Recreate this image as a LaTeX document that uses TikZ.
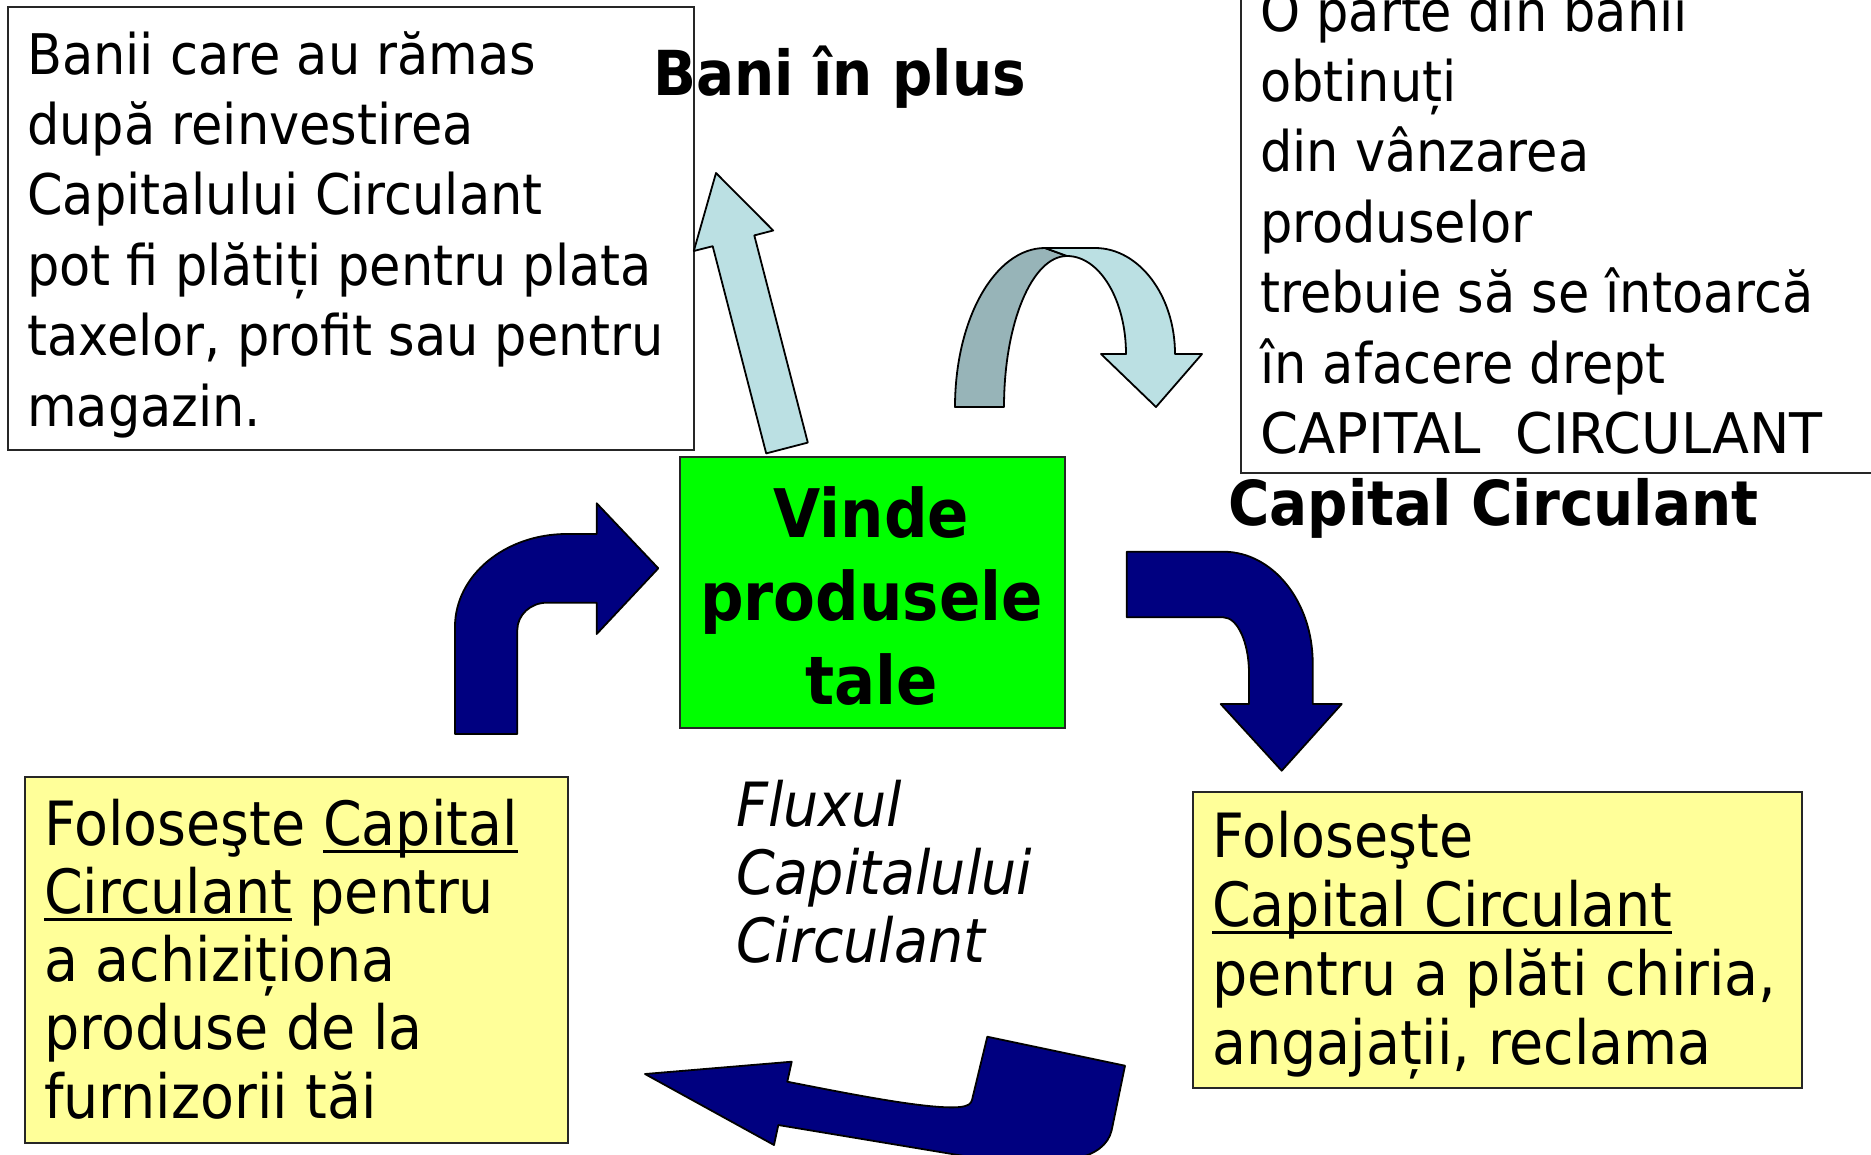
\documentclass[tikz,border=0pt]{standalone}
\usepackage{fontspec}
\setmainfont{DejaVu Sans}[FakeStretch=0.91]
\definecolor{navy}{HTML}{000080}
\definecolor{lblue}{HTML}{BBE0E3}
\definecolor{gblue}{HTML}{97B4B8}
\definecolor{lyellow}{HTML}{FFFF99}
\definecolor{vgreen}{HTML}{00FF00}
\newcommand\myul[1]{\leavevmode\setbox0\hbox{#1}\rlap{\rule[-8pt]{\wd0}{3pt}}\box0\relax}
\begin{document}
\begin{tikzpicture}[x=1pt,y=-1pt,
  box/.style={draw=black!85, line width=1.6pt, inner sep=0, anchor=north west},
  txt/.style={anchor=base west, inner sep=0},
  shp/.style={draw=black, line width=1.8pt, line join=round}]
\useasboundingbox (0,0) rectangle (1871,1154);
\fill[white] (0,0) rectangle (1871,1154);
\clip (0,0) rectangle (1871,1154);

% boxes
\node[box, fill=white, minimum width=686pt, minimum height=443pt] (tlbox) at (7,6) {};
\node[box, fill=white, minimum width=680pt, minimum height=492pt] (trbox) at (1240,-20) {};
\node[box, fill=vgreen, minimum width=385pt, minimum height=271pt] (gbox) at (679,456) {};
\node[box, fill=lyellow, minimum width=543pt, minimum height=366pt] (lybox) at (24,776) {};
\node[box, fill=lyellow, minimum width=609pt, minimum height=296pt] (rybox) at (1192,791) {};

% straight light-blue arrow (up)
\draw[shp, fill=lblue] (766.2,453.4) -- (712.7,246.2) -- (693.8,251) -- (716,173)
  -- (773.2,230.5) -- (754.3,235.4) -- (807.8,442.6) -- cycle;

% curved ribbon arrow: back (dark) part
\draw[shp, fill=gblue] (955,407) .. controls (955,319) and (995,248) .. (1045,248)
  -- (1067,256) .. controls (1032,256) and (1004,323.6) .. (1004,407) -- cycle;
% front (light) part
\draw[shp, fill=lblue] (1045,248) -- (1095,248) .. controls (1139,248) and (1175,295.5) .. (1175,354)
  -- (1202,354) -- (1156,407) -- (1101,354) -- (1126,354)
  .. controls (1126,300) and (1099.6,256) .. (1067,256) -- cycle;

% navy bent arrow (up then right)
\draw[shp, fill=navy] (455,734) -- (455,626.7) .. controls (455,575.5) and (505,534) .. (566.7,534)
  -- (596.7,534) -- (596.7,503.3) -- (658.3,568.3) -- (596.7,634) -- (596.7,602.7)
  -- (546.7,602.7) .. controls (530.5,602.7) and (517.3,615) .. (517.3,630) -- (517.3,734) -- cycle;

% navy bent arrow (right then down)
\draw[shp, fill=navy] (1126.7,551.7) -- (1223.3,551.7) .. controls (1272.7,551.7) and (1312.7,601.6) .. (1312.7,663)
  -- (1312.7,704) -- (1341.7,704) -- (1281.7,770.7) -- (1220.7,704) -- (1249,704) -- (1249,673.3)
  .. controls (1249,642.4) and (1237.5,617.3) .. (1223.3,617.3) -- (1126.7,617.3) -- cycle;

% navy bottom arrow (pointing left)
\draw[shp, fill=navy] (645,1074) -- (791.7,1061.7) -- (787.3,1081.7)
  .. controls (850,1094) and (930,1110) .. (960,1107)
  .. controls (968,1106) and (971,1104) .. (972,1100)
  -- (987.3,1036.7) -- (1125,1065.7) -- (1111.7,1130)
  .. controls (1105,1160) and (1060,1166) .. (1000,1162)
  -- (778.3,1125) -- (774,1145) -- cycle;

% texts
\node[txt] (tltext) at (27,74) {\parbox[t]{660pt}{\raggedright\fontsize{56}{70.4}\selectfont
  Banii care au rămas\\după reinvestirea\\Capitalului Circulant\\pot fi plătiți pentru plata\\taxelor, profit sau pentru\\magazin.}};
\node[txt] (trtext) at (1260,31) {\parbox[t]{600pt}{\raggedright\fontsize{56}{70.4}\selectfont
  O parte din banii\\obtinuți\\din vânzarea\\produselor\\trebuie să se întoarcă\\în afacere drept\\\scalebox{1.07}[1]{CAPITAL}\hspace{34pt}\scalebox{1.06}[1]{CIRCULANT}}};
\node[txt] (baniplus) at (653,95) {\fontsize{62}{70}\selectfont\bfseries Bani în plus};
\node[txt] (capcirc) at (1228,525) {\fontsize{62}{70}\selectfont\bfseries Capital Circulant};
\node[anchor=base, inner sep=0] (gtext) at (871.5,537) {\parbox[t]{380pt}{\centering\fontsize{67}{83.5}\selectfont\bfseries
  Vinde\\produsele\\tale}};
\node[txt] (flux) at (736,826) {\parbox[t]{400pt}{\raggedright\fontsize{61}{68}\selectfont\itshape
  Fluxul\\Capitalului\\Circulant}};
\node[txt] (lytext) at (44,845) {\parbox[t]{520pt}{\raggedright\fontsize{61}{68.3}\selectfont
  Foloseşte \myul{Capital}\\\myul{Circulant} pentru\\a achiziționa\\produse de la\\furnizorii tăi}};
\node[txt] (rytext) at (1212,857) {\parbox[t]{590pt}{\raggedright\fontsize{61}{69}\selectfont
  Foloseşte\\\myul{Capital Circulant}\\pentru a plăti chiria,\\angajații, reclama}};
\end{tikzpicture}
\end{document}
